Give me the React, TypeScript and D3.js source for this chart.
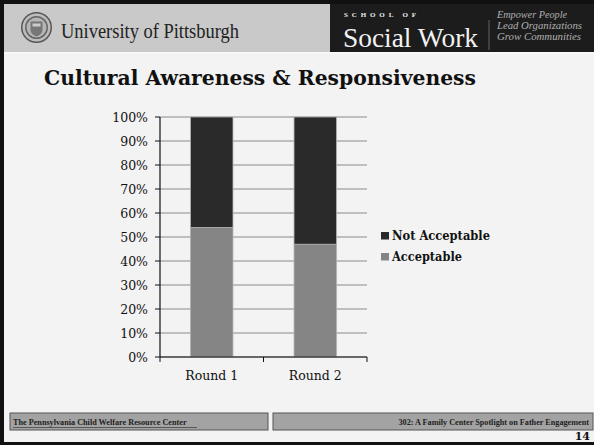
import React from "react";
import * as d3 from "d3";

const categories = ["Round 1", "Round 2"];
const acceptable = [54, 47];
const notAcceptable = [46, 53];
const seriesNames = ["Acceptable", "Not Acceptable"];
const yTicks = [0, 10, 20, 30, 40, 50, 60, 70, 80, 90, 100];
const legendOrder = ["Not Acceptable", "Acceptable"];

const W = 594;
const H = 445;
const SERIF = "'DejaVu Serif', serif";
const TIMES = "'Liberation Serif', serif";

const colors: Record<string, string> = {
  Acceptable: "#858585",
  "Not Acceptable": "#2a2a2a",
};

export default function App() {
  const rows = categories.map((c, i) => ({
    cat: c,
    Acceptable: acceptable[i],
    "Not Acceptable": notAcceptable[i],
  }));
  const stack = d3.stack<any>().keys(seriesNames);
  const layers = stack(rows);

  const x = d3.scaleBand().domain(categories).range([160, 367]).paddingInner(0.59).paddingOuter(0.295);
  const y = d3.scaleLinear().domain([0, 100]).range([357, 117]);
  const xTickPositions = [160, ...categories.map((_, i) => 160 + (207 / categories.length) * (i + 1))];

  return (
    <div style={{ position: "fixed", left: 0, top: 0 }}>
      <svg width={W} height={H} style={{ display: "block" }}>
        {/* frame */}
        <rect x={0} y={0} width={W} height={H} fill="#111" />
        <rect x={4} y={4} width={W - 4} height={H - 7} fill="#f3f3f3" />
        {/* header */}
        <rect x={4} y={4} width={326} height={48} fill="#c9c9c9" />
        <rect x={330} y={4} width={W - 330} height={48} fill="#1c1c1c" />
        <rect x={4} y={52} width={W - 4} height={1.5} fill="#fafafa" />
        {/* seal */}
        <g transform="translate(36.5,27.5)">
          <circle r={15.5} fill="#555" />
          <circle r={14} fill="#bdbdbd" />
          <circle r={11.5} fill="#666" />
          <circle r={10} fill="#b5b5b5" />
          <path d="M-6,-6 L6,-6 L6,2 Q6,7 0,9 Q-6,7 -6,2 Z" fill="#777" />
          <rect x={-4} y={-4} width={8} height={3} fill="#ccc" />
        </g>
        <text x={61} y={38} fontFamily={TIMES} fontSize={20} fill="#222" textLength={178} lengthAdjust="spacingAndGlyphs">
          University of Pittsburgh
        </text>
        <text x={344} y={17} fontFamily={TIMES} fontSize={7} fill="#eee" fontWeight="bold" textLength={72} lengthAdjust="spacing">
          SCHOOL OF
        </text>
        <text x={343} y={47} fontFamily={TIMES} fontSize={28} fill="#f2f2f2" textLength={135} lengthAdjust="spacingAndGlyphs">
          Social Work
        </text>
        <line x1={489} x2={489} y1={20} y2={50} stroke="#777" strokeWidth={0.8} />
        <text x={497} y={18} fontFamily={TIMES} fontStyle="italic" fontSize={10} fill="#b0b0b0" textLength={70} lengthAdjust="spacingAndGlyphs">
          Empower People
        </text>
        <text x={497} y={29} fontFamily={TIMES} fontStyle="italic" fontSize={10} fill="#b0b0b0" textLength={85} lengthAdjust="spacingAndGlyphs">
          Lead Organizations
        </text>
        <text x={497} y={40} fontFamily={TIMES} fontStyle="italic" fontSize={10} fill="#b0b0b0" textLength={84} lengthAdjust="spacingAndGlyphs">
          Grow Communities
        </text>

        {/* title */}
        <text x={44} y={85} fontFamily={SERIF} fontWeight="bold" fontSize={21} fill="#111" textLength={432} lengthAdjust="spacingAndGlyphs">
          Cultural Awareness &amp; Responsiveness
        </text>

        {/* gridlines */}
        {yTicks.map((t) => (
          <line key={"g" + t} x1={160} x2={367} y1={y(t)} y2={y(t)} stroke="#8a8a8a" strokeWidth={1} />
        ))}
        {/* bars */}
        {layers.map((layer) =>
          layer.map((d, i) => (
            <rect
              key={layer.key + i}
              x={x(categories[i])!}
              width={x.bandwidth()}
              y={y(d[1])}
              height={y(d[0]) - y(d[1])}
              fill={colors[layer.key]}
              stroke="#b0b0b0"
              strokeWidth={0.8}
            />
          ))
        )}
        {/* axes */}
        <line x1={160} x2={160} y1={117} y2={357} stroke="#111" strokeWidth={1.2} />
        <line x1={160} x2={367} y1={357} y2={357} stroke="#111" strokeWidth={1.2} />
        {yTicks.map((t) => (
          <g key={"yt" + t}>
            <line x1={155} x2={160} y1={y(t)} y2={y(t)} stroke="#111" />
            <text x={148} y={y(t) + 4.5} textAnchor="end" fontFamily={SERIF} fontSize={12.5} fill="#111">
              {t}%
            </text>
          </g>
        ))}
        {xTickPositions.map((p, i) => (
          <line key={"xt" + i} x1={p} x2={p} y1={357} y2={362} stroke="#111" />
        ))}
        {categories.map((c) => (
          <text key={c} x={x(c)! + x.bandwidth() / 2} y={380} textAnchor="middle" fontFamily={SERIF} fontSize={12.5} fill="#111">
            {c}
          </text>
        ))}
        {/* legend */}
        {legendOrder.map((k, i) => (
          <g key={k} transform={`translate(381,${232 + i * 21})`}>
            <rect x={0} y={0} width={8} height={7.5} fill={colors[k]} />
            <text x={11} y={8} fontFamily={SERIF} fontWeight="bold" fontSize={12} fill="#111" textLength={k.length * 7} lengthAdjust="spacingAndGlyphs">
              {k}
            </text>
          </g>
        ))}

        {/* footer */}
        <rect x={10} y={413} width={258} height={17} fill="#a3a3a3" stroke="#555" strokeWidth={1} />
        <text x={13} y={424.5} fontFamily={TIMES} fontWeight="bold" fontSize={8.2} fill="#222">
          The Pennsylvania Child Welfare Resource Center
        </text>
        <line x1={13} x2={197} y1={427.5} y2={427.5} stroke="#444" strokeWidth={0.8} />
        <rect x={273} y={413} width={320} height={17} fill="#a3a3a3" stroke="#555" strokeWidth={1} />
        <text x={589} y={424.5} textAnchor="end" fontFamily={TIMES} fontWeight="bold" fontSize={8.2} fill="#222">
          302: A Family Center Spotlight on Father Engagement
        </text>
        <text x={590} y={440} textAnchor="end" fontFamily={SERIF} fontWeight="bold" fontSize={11} fill="#111">
          14
        </text>
      </svg>
    </div>
  );
}
